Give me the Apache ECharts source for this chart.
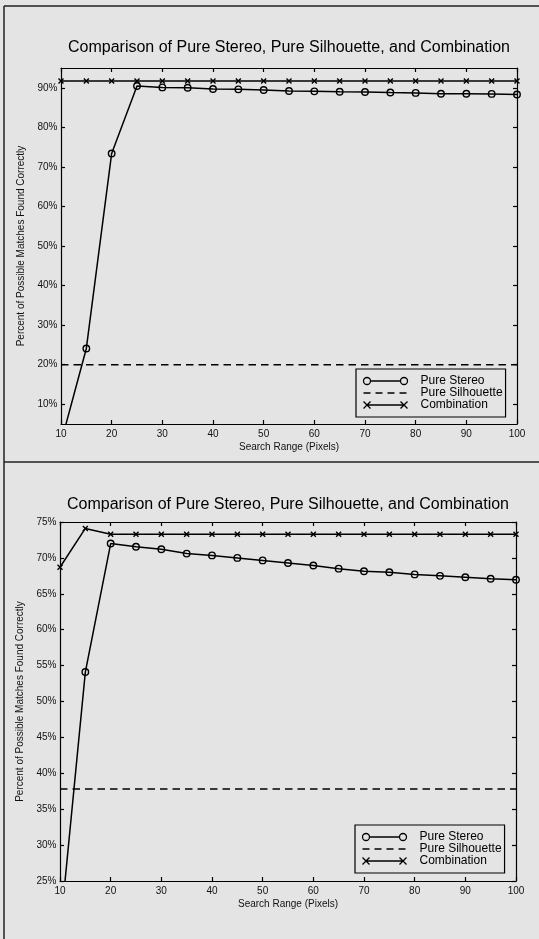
<!DOCTYPE html>
<html>
<head>
<meta charset="utf-8">
<script src="https://cdn.jsdelivr.net/npm/echarts@6/dist/echarts.min.js"></script>
<style>
html,body{margin:0;padding:0;background:#e4e4e4;}
#c{width:539px;height:939px;}
</style>
</head>
<body>
<div id="c"></div>
<script>
// ---- data ----
const titleText = 'Comparison of Pure Stereo, Pure Silhouette, and Combination';
const xName = 'Search Range (Pixels)';
const yName = 'Percent of Possible Matches Found Correctly';
const seriesNames = ['Pure Stereo', 'Pure Silhouette', 'Combination'];

const searchRange = [10,15,20,25,30,35,40,45,50,55,60,65,70,75,80,85,90,95,100];
const xTicks = [10,20,30,40,50,60,70,80,90,100];

// chart 1 (top)
const stereo1 = [0.3,24.1,73.4,90.45,90.1,90.0,89.7,89.6,89.45,89.2,89.1,89.0,88.95,88.8,88.7,88.5,88.5,88.45,88.3];
const silhouette1 = [20,20,20,20,20,20,20,20,20,20,20,20,20,20,20,20,20,20,20];
const combination1 = [91.7,91.7,91.7,91.7,91.7,91.7,91.7,91.7,91.7,91.7,91.7,91.7,91.7,91.7,91.7,91.7,91.7,91.7,91.7];
const yTicks1 = [10,20,30,40,50,60,70,80,90];

// chart 2 (bottom)
const stereo2 = [17.8,54.1,72.0,71.55,71.2,70.6,70.35,70.0,69.65,69.3,68.95,68.5,68.15,68.0,67.7,67.5,67.3,67.1,66.95];
const silhouette2 = [37.8,37.8,37.8,37.8,37.8,37.8,37.8,37.8,37.8,37.8,37.8,37.8,37.8,37.8,37.8,37.8,37.8,37.8,37.8];
const combination2 = [68.7,74.1,73.3,73.3,73.3,73.3,73.3,73.3,73.3,73.3,73.3,73.3,73.3,73.3,73.3,73.3,73.3,73.3,73.3];
const yTicks2 = [25,30,35,40,45,50,55,60,65,70,75];

// ---- build ----
const FONT = '"Liberation Sans", Arial, Helvetica, sans-serif';
const INK = '#111';
const pairs = (ys) => searchRange.map((x, i) => [x, ys[i]]);

function xAxisPair(grid) {
  const common = {
    type: 'value', gridIndex: grid, min: 10, max: 100, interval: 10,
    splitLine: {show: false},
    axisLine: {show: true, onZero: false, lineStyle: {color: '#000', width: 1.2}},
    axisTick: {show: true, inside: true, length: 4, lineStyle: {color: '#000', width: 1.2}}
  };
  return [
    Object.assign({}, common, {
      position: 'bottom',
      axisLabel: {show: true, fontSize: 10, color: INK, fontFamily: FONT, margin: 5},
      name: xName, nameLocation: 'middle', nameGap: 18,
      nameTextStyle: {fontSize: 10, color: INK, fontFamily: FONT}
    }),
    Object.assign({}, common, {position: 'top', axisLabel: {show: false}})
  ];
}
function yAxisPair(grid, min, max, ticks, nameGap) {
  const common = {
    type: 'value', gridIndex: grid, min: min, max: max, interval: 5,
    splitLine: {show: false},
    axisLine: {show: true, onZero: false, lineStyle: {color: '#000', width: 1.2}},
    axisTick: {show: true, inside: true, length: 4, customValues: ticks, lineStyle: {color: '#000', width: 1.2}}
  };
  return [
    Object.assign({}, common, {
      position: 'left',
      axisLabel: {show: true, customValues: ticks, formatter: '{value}%', fontSize: 10, color: INK, fontFamily: FONT, margin: 3.5},
      name: yName, nameLocation: 'middle', nameGap: nameGap, nameRotate: 90,
      nameTextStyle: {fontSize: 10, color: INK, fontFamily: FONT}
    }),
    Object.assign({}, common, {position: 'right', axisLabel: {show: false}})
  ];
}

const circleIcon = 'path://M0,3.5A3.5,3.5 0 1,0 7,3.5A3.5,3.5 0 1,0 0,3.5ZM7,3.5L37,3.5M37,3.5A3.5,3.5 0 1,0 44,3.5A3.5,3.5 0 1,0 37,3.5Z';
const crossIcon = 'path://M0,0L7,7M0,7L7,0M3.5,3.5L40.5,3.5M37,0L44,7M37,7L44,0';
const markerCross = 'path://M0,0L10,10M0,10L10,0';

function legendFor(left, top) {
  return {
    left: left, top: top, orient: 'vertical',
    itemWidth: 44, itemHeight: 7, itemGap: 0,
    padding: [6, 3, 6, 5],
    borderColor: '#000', borderWidth: 1.2,
    selectedMode: false,
    textStyle: {fontSize: 12, color: '#000', fontFamily: FONT, lineHeight: 11.5, padding: [0, 0, 0, 8]},
    data: [
      {name: seriesNames[0], icon: circleIcon, itemStyle: {color: 'none', borderColor: '#000', borderWidth: 1.3}},
      {name: seriesNames[1], itemStyle: {opacity: 0}, lineStyle: {color: '#000', width: 1.4, type: [7, 5]}},
      {name: seriesNames[2], icon: crossIcon, itemStyle: {color: 'none', borderColor: '#000', borderWidth: 1.3}}
    ]
  };
}

function seriesFor(xi, yi, st, si, co) {
  return [
    {
      name: seriesNames[0], type: 'line', xAxisIndex: xi, yAxisIndex: yi, data: pairs(st),
      symbol: 'circle', symbolSize: 6.5, showAllSymbol: true, clip: true, silent: true,
      itemStyle: {color: 'none', borderColor: '#000', borderWidth: 1.4},
      lineStyle: {color: '#000', width: 1.5}, z: 3
    },
    {
      name: seriesNames[1], type: 'line', xAxisIndex: xi, yAxisIndex: yi, data: pairs(si),
      symbol: 'none', clip: true, silent: true,
      itemStyle: {color: '#000'},
      lineStyle: {color: '#000', width: 1.5, type: [7.5, 5]}, z: 2
    },
    {
      name: seriesNames[2], type: 'line', xAxisIndex: xi, yAxisIndex: yi, data: pairs(co),
      symbol: markerCross, symbolSize: 5, showAllSymbol: true, clip: true, silent: true,
      itemStyle: {color: 'none', borderColor: '#000', borderWidth: 1.4},
      lineStyle: {color: '#000', width: 1.5}, z: 3
    }
  ];
}

const chart = echarts.init(document.getElementById('c'), null, {renderer: 'canvas'});
const frame = {stroke: '#222', lineWidth: 1.5};
chart.setOption({
  backgroundColor: '#e4e4e4',
  animation: false,
  title: [
    {text: titleText, left: 289, top: 39, textAlign: 'center', padding: 0,
     textStyle: {fontSize: 16, fontWeight: 'normal', color: '#000', fontFamily: FONT, lineHeight: 18}},
    {text: titleText, left: 288, top: 496, textAlign: 'center', padding: 0,
     textStyle: {fontSize: 16, fontWeight: 'normal', color: '#000', fontFamily: FONT, lineHeight: 18}}
  ],
  grid: [
    {left: 61, top: 68, width: 456, height: 356, containLabel: false},
    {left: 60, top: 522, width: 456, height: 359, containLabel: false}
  ],
  xAxis: xAxisPair(0).concat(xAxisPair(1)),
  yAxis: yAxisPair(0, 5, 95, yTicks1, 29).concat(yAxisPair(1, 25, 75, yTicks2, 27)),
  legend: [legendFor(356, 369), legendFor(355, 825)],
  series: seriesFor(0, 0, stereo1, silhouette1, combination1)
    .concat(seriesFor(2, 2, stereo2, silhouette2, combination2)),
  graphic: [
    {type: 'line', silent: true, shape: {x1: 4, y1: 6, x2: 4, y2: 939}, style: frame},
    {type: 'line', silent: true, shape: {x1: 4, y1: 6, x2: 539, y2: 6}, style: frame},
    {type: 'line', silent: true, shape: {x1: 4, y1: 462, x2: 539, y2: 462}, style: frame}
  ]
});
</script>
</body>
</html>
